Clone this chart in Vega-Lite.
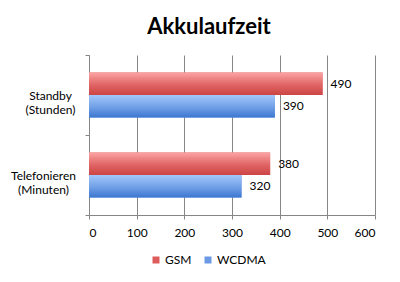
{
  "$schema": "https://vega.github.io/schema/vega-lite/v6.json",
  "width": 286,
  "height": 160,
  "autosize": "none",
  "padding": {"left": 89, "top": 55, "right": 25, "bottom": 67},
  "background": "white",
  "title": {"text": "Akkulaufzeit", "font": "Lato", "fontSize": 22, "fontWeight": "bold", "color": "#000000", "anchor": "middle", "dx": -23, "offset": 10},
  "data": {"values": [
    {"kategorie": "Standby (Stunden)", "netz": "GSM", "wert": 490},
    {"kategorie": "Standby (Stunden)", "netz": "WCDMA", "wert": 390},
    {"kategorie": "Telefonieren (Minuten)", "netz": "GSM", "wert": 380},
    {"kategorie": "Telefonieren (Minuten)", "netz": "WCDMA", "wert": 320}
  ]},
  "encoding": {
    "y": {"field": "kategorie", "type": "nominal", "sort": null, "title": null,
      "scale": {"paddingInner": 0, "paddingOuter": 0},
      "axis": {"tickBand": "extent", "labelExpr": "split(datum.label, ' ')", "labelAlign": "center", "labelBaseline": "middle", "labelLineHeight": 14,
        "labelPadding": {"condition": {"test": "datum.value === 'Standby (Stunden)'", "value": 35}, "value": 42},
        "labelFont": "Lato", "labelFontSize": 12, "labelColor": "#000000", "domainColor": "#868686", "tickColor": "#868686", "tickSize": 4, "grid": false}},
    "yOffset": {"field": "netz", "type": "nominal", "sort": ["GSM", "WCDMA"], "scale": {"paddingInner": 0, "paddingOuter": 0.778}},
    "x": {"field": "wert", "type": "quantitative", "title": null,
      "scale": {"domain": [0, 600], "nice": false},
      "axis": {"values": [0, 100, 200, 300, 400, 500, 600], "grid": true, "gridColor": "#868686", "domainColor": "#868686", "tickColor": "#868686", "tickSize": 4, "labelFont": "Lato", "labelFontSize": 12, "labelColor": "#000000", "labelPadding": 8}}
  },
  "layer": [
    {"mark": {"type": "bar"},
      "encoding": {"color": {"field": "netz", "type": "nominal", "sort": ["GSM", "WCDMA"],
        "scale": {"range": ["#de5c5c", "#6a9ae6"]},
        "legend": {"orient": "none", "legendX": 61, "legendY": 199, "direction": "horizontal", "title": null, "symbolType": "square", "symbolSize": 49, "symbolStrokeWidth": 0, "labelFont": "Lato", "labelFontSize": 12, "labelColor": "#000000", "columnPadding": 10, "labelOffset": 3}}}},
    {"mark": {"type": "bar"},
      "encoding": {"fill": {"condition": {"test": "datum.netz === 'GSM'", "value": {"gradient": "linear", "x1": 0, "y1": 0, "x2": 0, "y2": 1, "stops": [{"offset": 0, "color": "#fba4a4"}, {"offset": 0.55, "color": "#e06464"}, {"offset": 1, "color": "#cc4444"}]}},
        "value": {"gradient": "linear", "x1": 0, "y1": 0, "x2": 0, "y2": 1, "stops": [{"offset": 0, "color": "#a4c6fb"}, {"offset": 0.55, "color": "#6f9fe6"}, {"offset": 1, "color": "#3d77cf"}]}}}},
    {"mark": {"type": "text", "align": "left", "baseline": "middle", "dx": 8, "font": "Lato", "fontSize": 12, "color": "#000000"},
      "encoding": {"text": {"field": "wert", "type": "quantitative"}}}
  ],
  "config": {"view": {"stroke": null}, "axis": {"domainWidth": 1, "gridWidth": 1}}
}
